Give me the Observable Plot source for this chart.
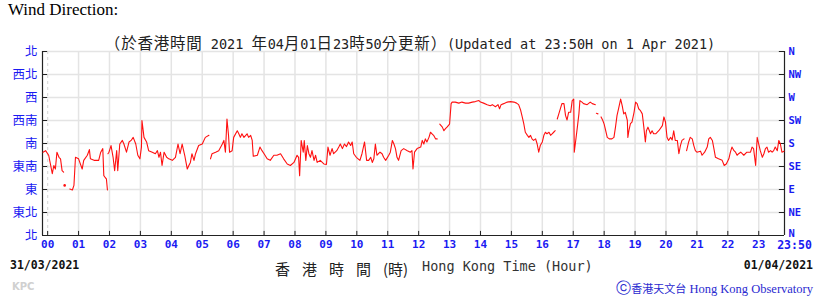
<!DOCTYPE html>
<html><head><meta charset="utf-8">
<script src="https://cdn.jsdelivr.net/npm/d3@7"></script>
<script src="https://cdn.jsdelivr.net/npm/@observablehq/plot@0.6"></script>
<style>
body{margin:0;background:#fff;}
#wrap{position:relative;width:820px;height:297px;overflow:hidden;}
#chart{position:absolute;left:0;top:0;}
.t{position:absolute;white-space:nowrap;line-height:16px;}
.z{font-family:'Noto Sans CJK TC',sans-serif;font-size:15.5px;letter-spacing:0.8px;}
</style></head><body><div id="wrap">
<div id="chart"></div>
<div class="t" style="left:8px;top:0px;font:17px 'Liberation Serif',serif;color:#000;">Wind Direction:</div>
<div class="t" style="left:0;width:820px;text-align:center;top:31px;font:13.5px 'DejaVu Sans Mono','Noto Sans CJK TC',monospace;color:#222;"><span class="z">（於香港時間</span> 2021 <span class="z">年</span>04<span class="z">月</span>01<span class="z">日</span>23<span class="z">時</span>50<span class="z">分更新）</span>(Updated at 23:50H on 1 Apr 2021)</div>
<div class="t" style="left:10px;top:258px;font:bold 11.5px 'DejaVu Sans Mono',monospace;color:#111;">31/03/2021</div>
<div class="t" style="left:275px;top:258px;font:15px 'Noto Sans CJK TC',sans-serif;color:#222;"><span style="letter-spacing:12px;">香港時間</span>(時)</div>
<div class="t" style="left:422px;top:258px;font:13.5px 'DejaVu Sans Mono',monospace;color:#333;">Hong Kong Time (Hour)</div>
<div class="t" style="right:7px;top:258px;font:bold 11.5px 'DejaVu Sans Mono',monospace;color:#111;">01/04/2021</div>
<div class="t" style="left:12px;top:281px;font:bold 10px 'DejaVu Sans',sans-serif;color:#d0d0d0;">KPC</div>
<div class="t" style="right:7px;top:279px;font:12.5px 'Liberation Serif',serif;color:#2a2ad0;"><span style="font-size:15px;">ⓒ</span><span style="font:11px 'Noto Sans CJK TC';">香港天文台</span> Hong Kong Observatory</div>
</div>
<script>
// time in minutes from 00:00 on 01/04/2021 (negative = 31/03), null direction = gap
const minutes = [
-9,-4,2,9,12,15,18,22,25,28,31,31,
33,33,
43,48,51,54,60,67,70,77,81,83,90,96,99,103,107,109,112,114,116,116,
117,119,123,127,130,134,136,140,145,148,153,158,162,166,171,175,179,182,183,187,192,196,203,209,213,216,219,222,226,231,235,242,248,253,257,261,266,271,274,277,280,284,287,293,300,306,313,313,
316,319,326,332,339,342,345,348,351,353,358,361,368,371,374,377,381,387,390,394,397,399,407,412,416,420,426,432,439,445,452,458,465,471,478,484,487,489,492,496,498,501,504,507,510,513,517,520,523,529,536,541,544,548,552,555,561,565,568,572,576,580,584,588,591,594,599,606,610,615,619,623,627,630,633,636,639,645,649,652,656,662,665,669,672,675,678,681,686,691,698,704,707,709,712,717,724,727,730,733,736,740,743,746,749,753,756,756,
761,766,769,772,775,780,783,785,791,798,804,811,817,824,830,837,840,846,853,859,863,869,874,877,880,885,892,898,905,910,914,918,921,924,927,931,934,937,940,943,947,950,953,956,960,963,966,969,973,976,979,982,985,985,
989,992,998,1002,1005,1008,1011,1015,1018,1021,1022,1024,1028,1031,1033,1037,1040,1047,1053,1057,1063,1063,
1065,1068,1068,
1074,1077,1080,1083,1086,1090,1095,1099,1102,1105,1108,1112,1115,1118,1121,1125,1126,1128,1131,1134,1138,1141,1144,1147,1150,1154,1157,1160,1162,1165,1170,1173,1176,1180,1186,1193,1196,1199,1202,1205,1209,1212,1215,1218,1222,1225,1228,1231,1235,1235,
1240,1244,1247,1251,1254,1257,1260,1267,1270,1275,1280,1283,1286,1290,1293,1296,1302,1309,1313,1317,1322,1325,1328,1332,1335,1338,1341,1345,1348,1351,1357,1364,1367,1370,1374,1377,1380,1383,1387,1390,1393,1396,1399,1403,1406,1409,1412,1416,1419,1422,1425,1429
];
const directions = [
163,166,157,121,137,130,163,153,150,127,124,null,
98,null,
91,89,98,153,150,130,147,157,168,150,147,147,147,163,170,117,113,111,89,null,
160,163,176,153,127,166,127,179,186,179,163,183,186,192,179,157,150,173,225,192,183,166,163,160,166,153,163,137,163,153,150,147,153,179,160,179,157,130,137,143,160,147,160,176,179,192,196,null,
150,160,163,166,179,186,163,228,196,163,166,192,205,199,192,199,192,199,192,196,186,155,157,173,166,160,150,147,157,157,160,150,140,137,143,157,153,117,186,163,186,147,176,160,153,166,147,157,143,147,140,139,173,157,170,160,166,173,179,170,179,174,183,176,183,160,153,147,160,183,147,147,153,143,150,179,157,163,160,153,147,157,163,186,179,170,153,147,166,170,166,163,166,130,163,170,173,186,179,189,183,192,202,199,196,189,189,null,
218,212,205,209,212,218,258,261,261,259,261,259,259,261,262,264,261,259,256,254,256,252,256,248,256,258,261,262,261,259,256,245,232,219,202,196,192,196,189,186,189,179,163,176,183,196,202,199,202,196,199,202,205,null,
228,238,258,258,235,226,241,241,264,267,163,179,212,238,264,261,258,256,261,258,256,null,
239,238,null,
232,226,218,205,192,189,189,192,212,235,248,267,254,238,241,225,192,205,219,222,241,261,258,248,245,238,212,183,205,212,199,205,199,199,205,215,232,222,192,186,192,187,205,186,186,160,176,186,189,null,
166,183,192,189,176,166,163,165,157,163,173,189,192,186,170,153,150,147,137,140,150,163,173,166,163,157,160,163,160,157,163,163,173,170,137,192,179,166,153,160,170,173,163,166,163,166,173,166,186,179,163,165
];
const dirDegrees = [0,45,90,135,180,225,270,315,360];
const dirLabelsZh = ["北","東北","東","東南","南","西南","西","西北","北"];
const dirLabelsEn = ["N","NE","E","SE","S","SW","W","NW","N"];
const hourTicks = [0,60,120,180,240,300,360,420,480,540,600,660,720,780,840,900,960,1020,1080,1140,1200,1260,1320,1380];
const hourLabels = ["00","01","02","03","04","05","06","07","08","09","10","11","12","13","14","15","16","17","18","19","20","21","22","23"];
const endTick = [1430];
const endLabel = ["23:50"];

const rows = minutes.map((m,i)=>({m, d: directions[i]}));
const isolated = rows.filter((r,i)=> r.d!=null && (i===0||rows[i-1].d==null) && (i===rows.length-1||rows[i+1].d==null));

const blue = "#1a1af2";
const enStyle = {frameAnchor:"right", dx:4, textAnchor:"start", fill:blue, fontWeight:"bold", fontSize:10.5, fontFamily:"'DejaVu Sans Mono'"};
const chart = Plot.plot({
  width:820, height:297,
  marginLeft:42, marginRight:36, marginTop:51, marginBottom:62,
  x:{domain:[-10,1430], axis:null},
  y:{domain:[0,360], axis:null},
  style:{background:"transparent", overflow:"visible"},
  marks:[
    Plot.ruleX(hourTicks.slice(1), {x:d=>d, stroke:"#e4e4e4", strokeWidth:1.5}),
    Plot.ruleX([hourTicks[0]], {x:d=>d, stroke:"#dcdcdc", strokeWidth:1.2, strokeDasharray:"3,3"}),
    Plot.ruleY(dirDegrees.slice(1), {y:d=>d, stroke:"#e4e4e4", strokeWidth:1.5}),
    Plot.ruleX([-10,1430], {x:d=>d, stroke:"#222", strokeWidth:1.2}),
    Plot.ruleY([0], {y:d=>d, stroke:"#222", strokeWidth:1.2}),
    Plot.ruleY(dirDegrees, {y:d=>d, x1:-10, x2:0, stroke:"#222"}),
    Plot.ruleY(dirDegrees, {y:d=>d, x1:1420, x2:1430, stroke:"#222"}),
    Plot.ruleX(hourTicks, {x:d=>d, y1:0, y2:8, stroke:"#222"}),
    Plot.line(rows, {x:"m", y:"d", stroke:"#ff1010", strokeWidth:1.1}),
    Plot.dot(isolated, {x:"m", y:"d", r:1.3, fill:"#ff1010"}),
    Plot.text(dirDegrees, {y:d=>d, text:(d,i)=>dirLabelsZh[i], frameAnchor:"left", dx:-5, textAnchor:"end", fill:blue, fontSize:12.5, fontFamily:"'Noto Sans CJK TC'"}),
    Plot.text(dirDegrees.slice(1), {y:d=>d, text:(d,i)=>dirLabelsEn[i+1], ...enStyle}),
    Plot.text(dirDegrees.slice(0,1), {y:d=>d, text:(d,i)=>dirLabelsEn[i], ...enStyle, dy:-2}),
    Plot.text(hourTicks, {x:d=>d, text:(d,i)=>hourLabels[i], frameAnchor:"bottom", dy:12.5, fill:blue, fontWeight:"bold", fontSize:11, fontFamily:"'DejaVu Sans Mono'"}),
    Plot.text(endTick, {x:d=>d, text:(d,i)=>endLabel[i], frameAnchor:"bottom", dy:13.5, dx:10, fill:blue, fontWeight:"bold", fontSize:11.5, fontFamily:"'DejaVu Sans Mono'"})
  ]
});
document.getElementById("chart").appendChild(chart);
</script>
</body></html>
